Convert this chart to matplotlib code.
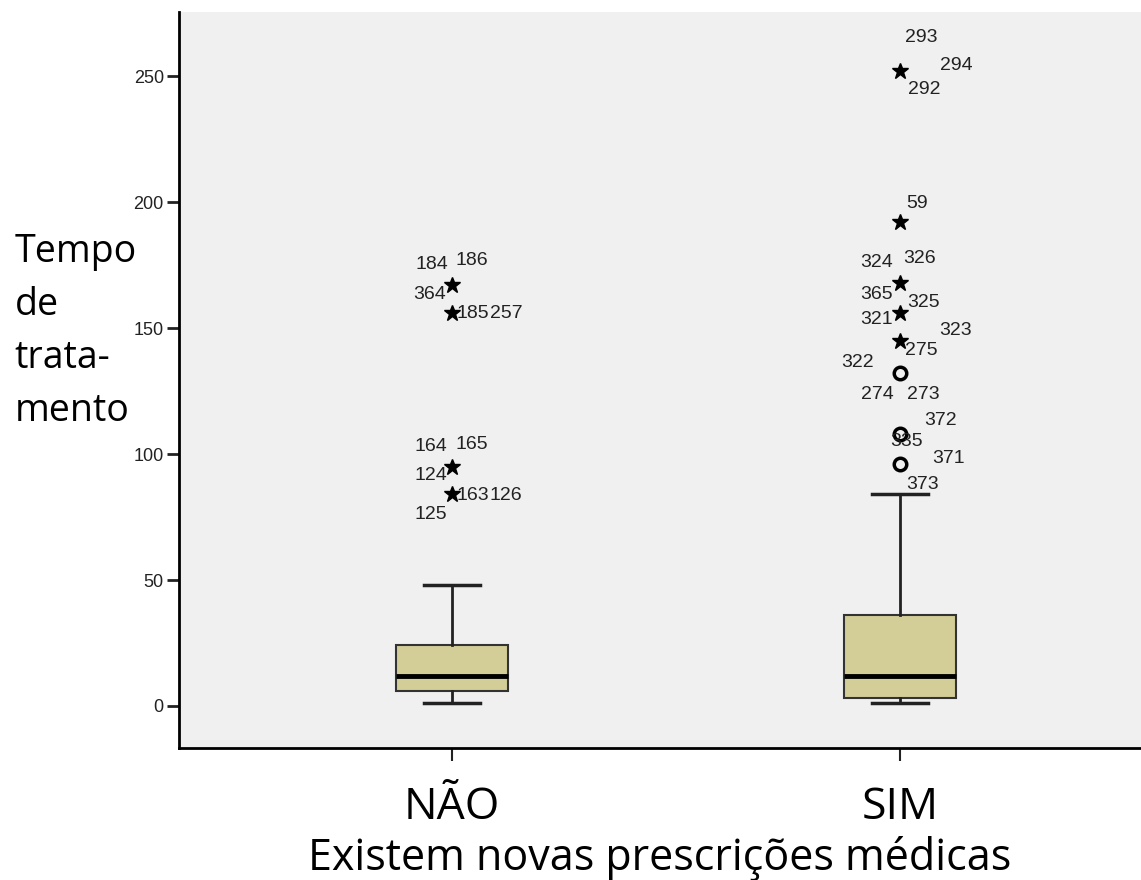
import matplotlib.pyplot as plt

# dados (SPSS boxplot)
categorias = ['NÃO', 'SIM']
q1 = [6, 3]
mediana = [12, 12]
q3 = [24, 36]
bigode_inf = [1, 1]
bigode_sup = [48, 84]

# casos extremos (estrela) e atípicos (círculo)
extremos = [[167, 156, 95, 84], [252, 192, 168, 156, 145]]
atipicos = [[], [132, 108, 96]]

# rótulos dos casos: (grupo, valor, texto)
rotulos = [
    (0, 167, '184'), (0, 167, '186'), (0, 167, '364'),
    (0, 156, '185'), (0, 156, '257'),
    (0, 95, '164'), (0, 95, '165'), (0, 95, '124'),
    (0, 84, '163'), (0, 84, '126'), (0, 84, '125'),
    (1, 252, '293'), (1, 252, '294'), (1, 252, '292'),
    (1, 192, '59'),
    (1, 168, '324'), (1, 168, '326'),
    (1, 156, '365'), (1, 156, '325'),
    (1, 145, '321'), (1, 145, '323'), (1, 145, '275'),
    (1, 132, '322'), (1, 132, '274'), (1, 132, '273'),
    (1, 108, '372'), (1, 108, '335'),
    (1, 96, '371'), (1, 96, '373'),
]
# deslocamento dos rótulos em pixels (dx, dy)
desloc = [
    (-20, 21), (20, 25), (-22, -9),
    (21, 0), (54, 0),
    (-21, 20), (20, 22), (-21, -9),
    (21, -1), (54, -1), (-21, -20),
    (21, 34), (56, 6), (24, -18),
    (17, 19),
    (-23, 20), (20, 24),
    (-23, 19), (24, 11),
    (-23, 21), (56, 10), (21, -10),
    (-42, 11), (-23, -21), (23, -21),
    (41, 13), (7, -8),
    (49, 6), (23, -20),
]

# título do eixo y, uma linha por texto
titulo_y = ['Tempo', 'de', 'trata-', 'mento']

posicoes = [1, 2]

fig = plt.figure(figsize=(11.41, 8.8), dpi=100)
ax = fig.add_axes([0.157, 0.15, 0.843, 0.836])
ax.set_facecolor('#f0f0f0')

stats = []
for i in range(len(categorias)):
    stats.append({'med': mediana[i], 'q1': q1[i], 'q3': q3[i],
                  'whislo': bigode_inf[i], 'whishi': bigode_sup[i], 'fliers': []})

ax.bxp(stats, positions=posicoes, widths=0.25, capwidths=0.127,
       patch_artist=True, showfliers=False,
       boxprops=dict(facecolor='#d3ce97', edgecolor='#333333', linewidth=1.5),
       medianprops=dict(color='black', linewidth=3.5),
       whiskerprops=dict(color='#222222', linewidth=2),
       capprops=dict(color='#222222', linewidth=2.5))

for i, pos in enumerate(posicoes):
    ax.plot([pos] * len(extremos[i]), extremos[i], linestyle='none', marker='*',
            markersize=12, color='black')
    ax.plot([pos] * len(atipicos[i]), atipicos[i], linestyle='none', marker='o',
            markersize=9, markerfacecolor='none', markeredgecolor='black', markeredgewidth=2.5)

for (g, v, t), (dx, dy) in zip(rotulos, desloc):
    ax.annotate(t, (posicoes[g], v), xytext=(dx, dy), textcoords='offset pixels',
                ha='center', va='center', fontsize=14, color='#222222',
                family='Liberation Sans')

ax.set_xlim(0.391, 2.538)
ax.set_ylim(-16.7, 275.4)
ax.set_yticks([0, 50, 100, 150, 200, 250])
ax.set_xticks(posicoes)
ax.set_xticklabels(categorias, family='Open Sans', fontsize=32)
for lab in ax.get_yticklabels():
    lab.set_family('Liberation Sans')
ax.tick_params(axis='y', labelsize=13, length=9, width=2, pad=2, color='#222222', labelcolor='#222222')
ax.tick_params(axis='x', length=9, width=1.5, pad=18, color='#222222')

ax.spines['top'].set_visible(False)
ax.spines['right'].set_visible(False)
ax.spines['left'].set_linewidth(2)
ax.spines['bottom'].set_linewidth(2)

ax.set_xlabel('Existem novas prescrições médicas', family='Open Sans', fontsize=31, labelpad=4)

# linhas do título y (base de cada linha)
for k, linha in enumerate(titulo_y):
    fig.text(0.013, 0.7023 - k * 0.0602, linha, family='Open Sans', fontsize=27,
             ha='left', va='baseline')

fig.savefig('out.png', dpi=100)
